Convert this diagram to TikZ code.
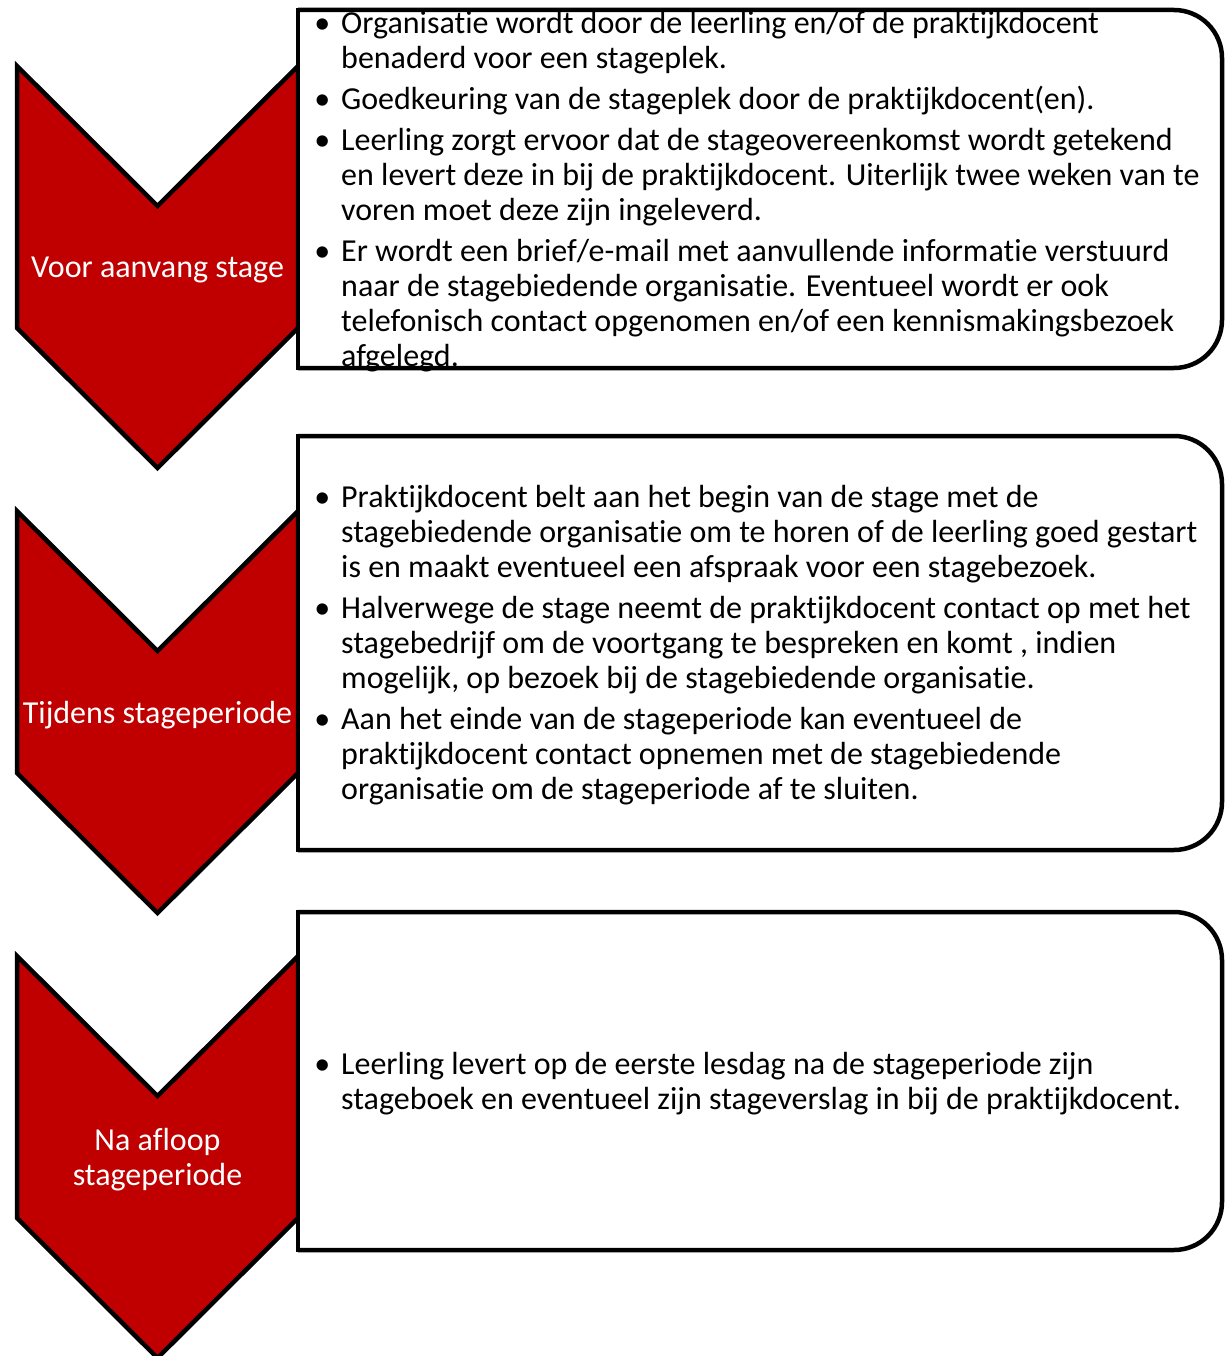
\documentclass[tikz,border=0pt]{standalone}
\usepackage{fontspec}
\setmainfont{Carlito}[Ligatures=NoCommon]
\usetikzlibrary{positioning}
\definecolor{stagerood}{RGB}{192,0,0}
\newcommand{\tekstgrootte}{\fontsize{32}{35}\selectfont}
\newcommand{\bol}{\llap{•\hspace{11pt}}}

\begin{document}
\begin{tikzpicture}[x=1pt,y=-1pt,
  pijl/.style={draw=black,fill=stagerood,line width=4.5pt,line join=miter},
  pijltekst/.style={text=white,align=center,inner sep=0pt,font=\tekstgrootte},
  kader/.style={draw=black,line width=4.5pt,rounded corners=48pt},
  lijst/.style={anchor=west,align=left,inner sep=0pt,font=\tekstgrootte}]

  \useasboundingbox (0,0) rectangle (1226,1356);

  % rode pijlen met fase
  \foreach \boven/\naam/\fase in {66/voor/{Voor aanvang stage},
      511/tijdens/{Tijdens stageperiode},
      956/na/{Na afloop\\stageperiode}}{
    \draw[pijl] (17,\boven) -- (157.5,\boven+140) -- (298,\boven)
      -- (298,\boven+262) -- (157.5,\boven+402) -- (17,\boven+262) -- cycle;
    \node[pijltekst] (\naam) at (157.5,\boven+204) {\fase};
  }

  % witte kaders
  \foreach \boven/\onder in {10/368,436/850,912/1250}
    \fill[white,rounded corners=48pt] (298,\boven) -- (1222,\boven)
      -- (1222,\onder) -- (298,\onder);

  \node[lijst] (lijst-voor) at (341,191.5) {%
    \bol Organisatie wordt door de leerling en/of de praktijkdocent\\
    benaderd voor een stageplek.\\[6pt]
    \bol Goedkeuring van de stageplek door de praktijkdocent(en).\\[6pt]
    \bol Leerling zorgt ervoor dat de stageovereenkomst wordt getekend\\
    en levert deze in bij de praktijkdocent. Uiterlijk twee weken van te\\
    voren moet deze zijn ingeleverd.\\[6pt]
    \bol Er wordt een brief/e-mail met aanvullende informatie verstuurd\\
    naar de stagebiedende organisatie. Eventueel wordt er ook\\
    telefonisch contact opgenomen en/of een kennismakingsbezoek\\
    afgelegd.};

  \node[lijst] (lijst-tijdens) at (341,645) {%
    \bol Praktijkdocent belt aan het begin van de stage met de\\
    stagebiedende organisatie om te horen of de leerling goed gestart\\
    is en maakt eventueel een afspraak voor een stagebezoek.\\[6pt]
    \bol Halverwege de stage neemt de praktijkdocent contact op met het\\
    stagebedrijf om de voortgang te bespreken en komt , indien\\
    mogelijk, op bezoek bij de stagebiedende organisatie.\\[6pt]
    \bol Aan het einde van de stageperiode kan eventueel de\\
    praktijkdocent contact opnemen met de stagebiedende\\
    organisatie om de stageperiode af te sluiten.};

  \node[lijst] (lijst-na) at (341,1084) {%
    \bol Leerling levert op de eerste lesdag na de stageperiode zijn\\
    stageboek en eventueel zijn stageverslag in bij de praktijkdocent.};

  % randen van de kaders
  \foreach \boven/\onder in {10/368,436/850,912/1250}{
    \draw[kader] (298,\boven) -- (1222,\boven) -- (1222,\onder) -- (298,\onder);
    \draw[kader,line cap=rect] (298,\boven) -- (298,\onder);
  }

\end{tikzpicture}
\end{document}
